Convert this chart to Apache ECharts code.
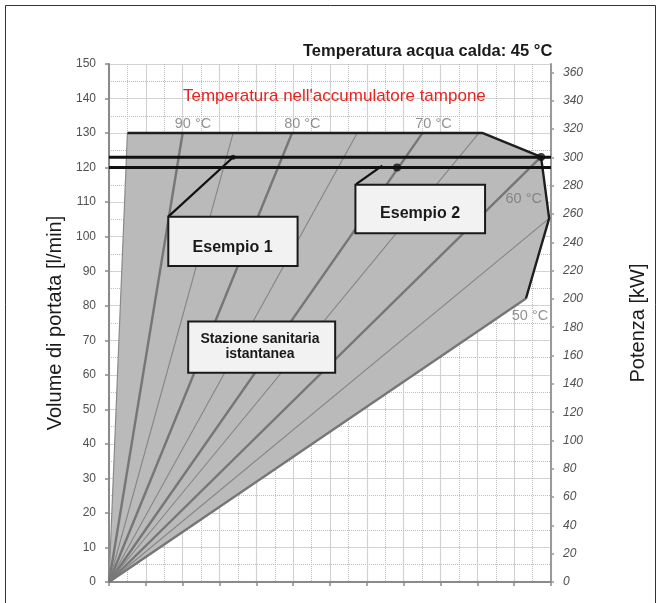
<!DOCTYPE html>
<html><head><meta charset="utf-8">
<script src="https://cdn.jsdelivr.net/npm/echarts@6/dist/echarts.min.js"></script>
<style>html,body{margin:0;padding:0;background:#fff}#c{width:664px;height:603px}</style>
</head><body><div id="c"></div>
<script>
// ---- data ----
const flowMax = 150;                       // l/min (left axis)
const powerMax = 366;                      // kW at 150 l/min (right axis)
const powerTicks = [0,20,40,60,80,100,120,140,160,180,200,220,240,260,280,300,320,340,360];
const fanTemps = [90,85,80,75,70,65,60,55,50];
const fanEnds = [[2.0,130],[3.37,130],[4.97,130],[6.74,130],[8.51,130],[10.04,130],[11.73,123.1],[11.95,105.3],[11.32,82.1]];
const envelope = [[0,0],[0.5,130],[10.15,130],[11.73,123.1],[11.95,105.3],[11.32,82.1]];
const envelopeOutline = [[0.5,130],[10.15,130],[11.73,123.1],[11.95,105.3],[11.32,82.1]];
const leftEdge = [[0,0],[0.5,130]];
const exampleFlows = [123,120];
const examplePoints = [[11.73,123.1],[7.82,120]];
const leaderEnds = [[3.37,123]];
const leaderLines = [[[1.61,105.8],[3.37,123]],[[6.71,115.2],[7.42,120.6]]];
const boxNames = ['Esempio 1','Esempio 2','Stazione sanitaria\nistantanea'];
const boxRanges = [[1.61,105.8,5.12,91.5],[6.69,115.0,10.21,101.0],[2.15,75.4,6.14,60.6]];
const boxTextAt = [[3.355,96.7],[8.446,106.6],[4.10,68.2]];
const tempLabelNames = ['90 °C','80 °C','70 °C','60 °C','50 °C'];
const tempLabelAt = [[2.28,132.7],[5.25,132.7],[8.81,132.7],[11.26,110.9],[11.43,77.0]];

// ---- chart ----
const FF = '"Liberation Sans", Arial, Helvetica, sans-serif';
const chart = echarts.init(document.getElementById('c'), null, {renderer:'canvas'});
const series = [];

series.push({
  type:'custom', z:1, silent:true, data:[[0,0]],
  renderItem:(params, api) => ({
    type:'polygon',
    shape:{points: envelope.map(p => api.coord(p))},
    style:{fill:'#bababa'}
  })
});
series.push({type:'line', z:2, data:leftEdge, symbol:'none', silent:true,
  lineStyle:{color:'#8a8a8a', width:1.2}});
fanTemps.forEach((t,i) => {
  const thick = t % 10 === 0;
  series.push({type:'line', z:2, name:t+' °C', data:[[0,0], fanEnds[i]], symbol:'none', silent:true,
    lineStyle:{color: thick ? '#767676' : '#858585', width: thick ? 2.4 : 1.1}});
});
series.push({type:'line', z:3, data:envelopeOutline, symbol:'none', silent:true,
  lineStyle:{color:'#1e1e1e', width:2.4, join:'round'}});
exampleFlows.forEach(f => {
  series.push({type:'line', z:4, data:[[0,f],[12,f]], symbol:'none', silent:true,
    lineStyle:{color:'#111', width:3}});
});
leaderLines.forEach(l => {
  series.push({type:'line', z:4, data:l, symbol:'none', silent:true,
    lineStyle:{color:'#111', width:2.2}});
});
series.push({type:'scatter', z:5, data:examplePoints, symbolSize:8, itemStyle:{color:'#111'}, silent:true});
series.push({type:'scatter', z:5, data:leaderEnds, symbolSize:5, itemStyle:{color:'#111'}, silent:true});
series.push({type:'scatter', z:3, silent:true, symbolSize:0,
  data: tempLabelAt.map((p,i) => ({value:p, name:tempLabelNames[i]})),
  label:{show:true, position:'inside', formatter:'{b}', color:'#777', fontSize:14.5, fontFamily:FF}});
series.push({
  type:'custom', z:6, silent:true,
  data: boxTextAt.map(p => p.slice()),
  renderItem:(params, api) => {
    const i = params.dataIndex;
    const r = boxRanges[i];
    const p0 = api.coord([r[0], r[1]]), p1 = api.coord([r[2], r[3]]);
    const t = api.coord(boxTextAt[i]);
    const multi = boxNames[i].indexOf('\n') >= 0;
    return {type:'group', children:[
      {type:'rect', shape:{x:p0[0], y:p0[1], width:p1[0]-p0[0], height:p1[1]-p0[1]},
       style:{fill:'#f2f2f2', stroke:'#1a1a1a', lineWidth:2}},
      {type:'text', style:{text:boxNames[i], x:t[0], y:t[1], align:'center', verticalAlign:'middle',
        fontSize: multi ? 14 : 16, fontWeight:'bold', fontFamily:FF, fill:'#1a1a1a', lineHeight:15}}
    ]};
  }
});

chart.setOption({
  animation:false,
  backgroundColor:'#fff',
  title:[
    {text:'Temperatura acqua calda: 45 °C', left:290, top:40, backgroundColor:'#fff', padding:[3,4,3,13],
     textStyle:{fontSize:16.5, fontWeight:'bold', color:'#1a1a1a', fontFamily:FF}},
    {text:"Temperatura nell'accumulatore tampone", left:183, top:88, padding:0,
     textStyle:{fontSize:17, fontWeight:'normal', color:'#e8231f', fontFamily:FF}}
  ],
  graphic:[{type:'rect', shape:{x:5.5, y:5.5, width:650, height:700}, style:{fill:'none', stroke:'#333', lineWidth:1}}],
  grid:{left:109, right:113, top:64, bottom:21, containLabel:false},
  xAxis:{type:'value', min:0, max:12, interval:1,
    axisLine:{show:true, lineStyle:{color:'#8a8a8a', width:2}},
    axisTick:{show:true, inside:false, length:4, lineStyle:{color:'#8a8a8a', width:1.5}},
    axisLabel:{show:false},
    splitLine:{show:true, lineStyle:{color:'#d2d2d2', width:1.2}},
    minorTick:{show:false, splitNumber:2},
    minorSplitLine:{show:true, lineStyle:{color:'#bdbdbd', width:1, type:'dotted'}}
  },
  yAxis:[
    {type:'value', min:0, max:flowMax, interval:10, position:'left',
     name:'Volume di portata [l/min]', nameLocation:'middle', nameRotate:90, nameGap:41,
     nameTextStyle:{fontSize:20, color:'#1a1a1a', fontFamily:FF},
     axisLine:{show:true, lineStyle:{color:'#8a8a8a', width:2}},
     axisTick:{show:true, length:4, lineStyle:{color:'#8a8a8a', width:1.5}},
     axisLabel:{margin:13, color:'#505050', fontSize:12, fontFamily:FF},
     splitLine:{show:true, lineStyle:{color:'#d2d2d2', width:1.2}},
     minorTick:{show:false, splitNumber:2},
     minorSplitLine:{show:true, lineStyle:{color:'#bdbdbd', width:1, type:'dotted'}}
    },
    {type:'value', min:0, max:powerMax, position:'right',
     name:'Potenza [kW]', nameLocation:'middle', nameRotate:90, nameGap:77,
     nameTextStyle:{fontSize:20, color:'#1a1a1a', fontFamily:FF},
     axisLine:{show:true, lineStyle:{color:'#999', width:2}},
     axisTick:{show:true, length:3, customValues:powerTicks, lineStyle:{color:'#999', width:1.5}},
     axisLabel:{margin:12, color:'#505050', fontSize:12, fontStyle:'italic', fontFamily:FF, customValues:powerTicks},
     splitLine:{show:false}
    }
  ],
  series
});
</script></body></html>
